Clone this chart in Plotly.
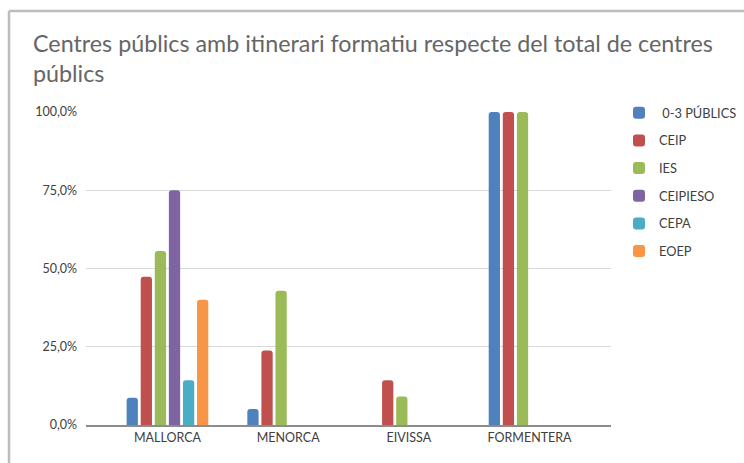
import plotly.graph_objects as go

# Islands (categories) and percentage of public centres per type
islands = ["MALLORCA", "MENORCA", "EIVISSA", "FORMENTERA"]
series_names = [" 0-3 PÚBLICS", "CEIP", "IES", "CEIPIESO", "CEPA", "EOEP"]
pub_0_3 = [8.7, 5.1, 0, 100]
ceip = [47.4, 23.8, 14.3, 100]
ies = [55.6, 42.9, 9.1, 100]
ceipieso = [75.0, 0, 0, 0]
cepa = [14.3, 0, 0, 0]
eoep = [40.0, 0, 0, 0]
y_ticks = [0, 25, 50, 75, 100]
y_tick_text = [f"{v:.1f}".replace(".", ",") + "%" for v in y_ticks]

values = [pub_0_3, ceip, ies, ceipieso, cepa, eoep]
colors = ["#4F81BD", "#C0504D", "#9BBB59", "#8064A2", "#4BACC6", "#F79646"]

W, H = 744, 463
L, R, T, B = 86, 611, 112, 425  # plot area in pixels

fig = go.Figure()
for name, vals, col in zip(series_names, values, colors):
    fig.add_trace(go.Bar(
        x=islands, y=vals, name=name, legendgroup=name,
        marker=dict(color=col, line=dict(width=0), cornerradius=3),
        hoverinfo="x+y+name",
    ))

font_family = "Lato, 'Open Sans', sans-serif"
text_col = "#404040"

fig.update_layout(
    width=W, height=H,
    margin=dict(l=L, r=W - R, t=T, b=H - B, pad=0, autoexpand=False),
    paper_bgcolor="white", plot_bgcolor="white",
    barmode="group", bargap=0.30, bargroupgap=0.2,
    font=dict(family=font_family, size=12, color=text_col),
    title=dict(
        text="Centres públics amb itinerari formatiu respecte del total de centres<br>públics",
        font=dict(family=font_family, size=23.3, color="#666666"),
        x=33 / W, xanchor="left", xref="container",
        y=1 - 52 / H, yanchor="top", yref="container",
    ),
    xaxis=dict(
        range=[-0.675, 3.675], showgrid=False, showline=True,
        linecolor="#8c8c8c", linewidth=1.5, ticks="",
        tickfont=dict(size=12.5, color=text_col),
    ),
    yaxis=dict(
        range=[0, 100], tickvals=y_ticks, ticktext=y_tick_text,
        showgrid=True, gridcolor="#d9d9d9", gridwidth=1, zeroline=False,
        showline=False, ticks="", ticklabelstandoff=8,
        tickfont=dict(size=12.5, color=text_col),
    ),
    legend=dict(
        x=(619 - L) / (R - L), xanchor="left",
        y=(B - 98) / (B - T), yanchor="top",
        font=dict(size=12.8, color=text_col),
        tracegroupgap=8, itemclick=False, itemdoubleclick=False,
        bgcolor="rgba(0,0,0,0)",
    ),
    showlegend=True,
)

# outer chart frame (top and left edges visible)
fig.add_shape(type="line", xref="paper", yref="paper",
              x0=(9 - L) / (R - L), x1=(W + 5 - L) / (R - L),
              y0=(B - 11) / (B - T), y1=(B - 11) / (B - T),
              line=dict(color="#bdbdbd", width=2.5))
fig.add_shape(type="line", xref="paper", yref="paper",
              x0=(9 - L) / (R - L), x1=(9 - L) / (R - L),
              y0=(B - 11) / (B - T), y1=(B - H - 5) / (B - T),
              line=dict(color="#bdbdbd", width=2.5))

fig.write_html("out.html")
